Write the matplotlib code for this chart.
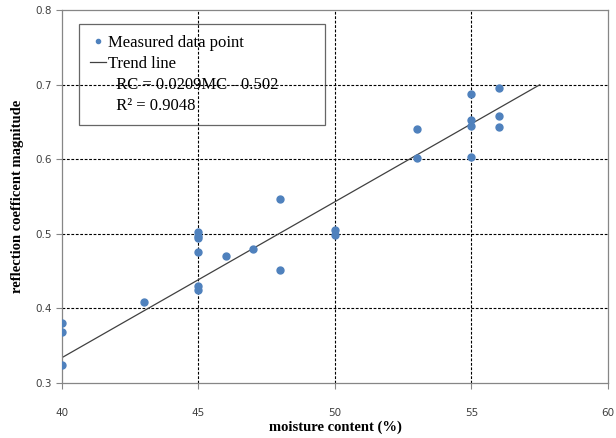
import matplotlib
matplotlib.use("Agg")
import matplotlib.pyplot as plt
from matplotlib.lines import Line2D
import numpy as np

# moisture content (%) and measured reflection coefficient
mc = [40, 40, 40, 43, 45, 45, 45, 45, 45, 45, 46, 47, 48, 48, 50, 50,
      53, 53, 55, 55, 55, 55, 56, 56, 56]
rc = [0.381, 0.368, 0.324, 0.408, 0.502, 0.497, 0.494, 0.476, 0.430, 0.425,
      0.470, 0.479, 0.547, 0.452, 0.505, 0.499, 0.641, 0.601, 0.687, 0.652,
      0.645, 0.603, 0.695, 0.658, 0.643]

slope = 0.0209
intercept = -0.502
trend_x = [40, 57.5]

xticks = [40, 45, 50, 55, 60]
yticks = [0.3, 0.4, 0.5, 0.6, 0.7, 0.8]

serif = "Liberation Serif"
blue = "#4F81BD"

fig = plt.figure(figsize=(6.16, 4.38), dpi=100)
ax = fig.add_axes([0.1006, 0.1256, 0.8864, 0.8516])

ax.set_xlim(40, 60)
ax.set_ylim(0.3, 0.8)
ax.set_xticks(xticks)
ax.set_yticks(yticks)
ax.set_xticklabels([str(t) for t in xticks])
ax.set_yticklabels([f"{t:.1f}" for t in yticks])
ax.tick_params(labelsize=7.5, labelcolor="#404040", color="#868686",
               length=4, width=0.8)
ax.tick_params(axis="x", pad=14)

for s in ax.spines.values():
    s.set_color("#868686")
    s.set_linewidth(0.9)

# dashed grid at inner ticks only
for x in xticks[1:-1]:
    ax.axvline(x, color="black", ls=(0, (2.5, 1.5)), lw=0.8, zorder=1)
for y in yticks[1:-1]:
    ax.axhline(y, color="black", ls=(0, (2.5, 1.5)), lw=0.8, zorder=1)

ax.plot(mc, rc, "o", color=blue, ms=5, mec=blue, zorder=3)
tx = np.array(trend_x)
ax.plot(tx, slope * tx + intercept, color="#404040", lw=0.9, zorder=2)

ax.set_xlabel("moisture content (%)", family=serif, fontweight="bold",
              fontsize=10.5, labelpad=2)
ax.set_ylabel("reflection coefficent magnitude", family=serif,
              fontweight="bold", fontsize=10.5, labelpad=8)

handles = [
    Line2D([], [], marker="o", ls="none", color=blue, ms=3),
    Line2D([], [], color="#404040", lw=0.9),
    Line2D([], [], ls="none"),
    Line2D([], [], ls="none"),
]
labels = ["Measured data point", "Trend line",
          "  RC = 0.0209MC - 0.502", "  R\u00b2 = 0.9048"]
leg = ax.legend(handles, labels, loc="upper left",
                bbox_to_anchor=(0.031, 0.692, 0.451, 0.27), mode="expand",
                prop={"family": serif, "size": 12}, frameon=True,
                fancybox=False, edgecolor="#404040", facecolor="none",
                handlelength=1.0, handletextpad=0.1, labelspacing=0.3,
                borderpad=0.65, borderaxespad=0)
leg.get_frame().set_linewidth(0.9)

fig.savefig("out.png", dpi=100)
